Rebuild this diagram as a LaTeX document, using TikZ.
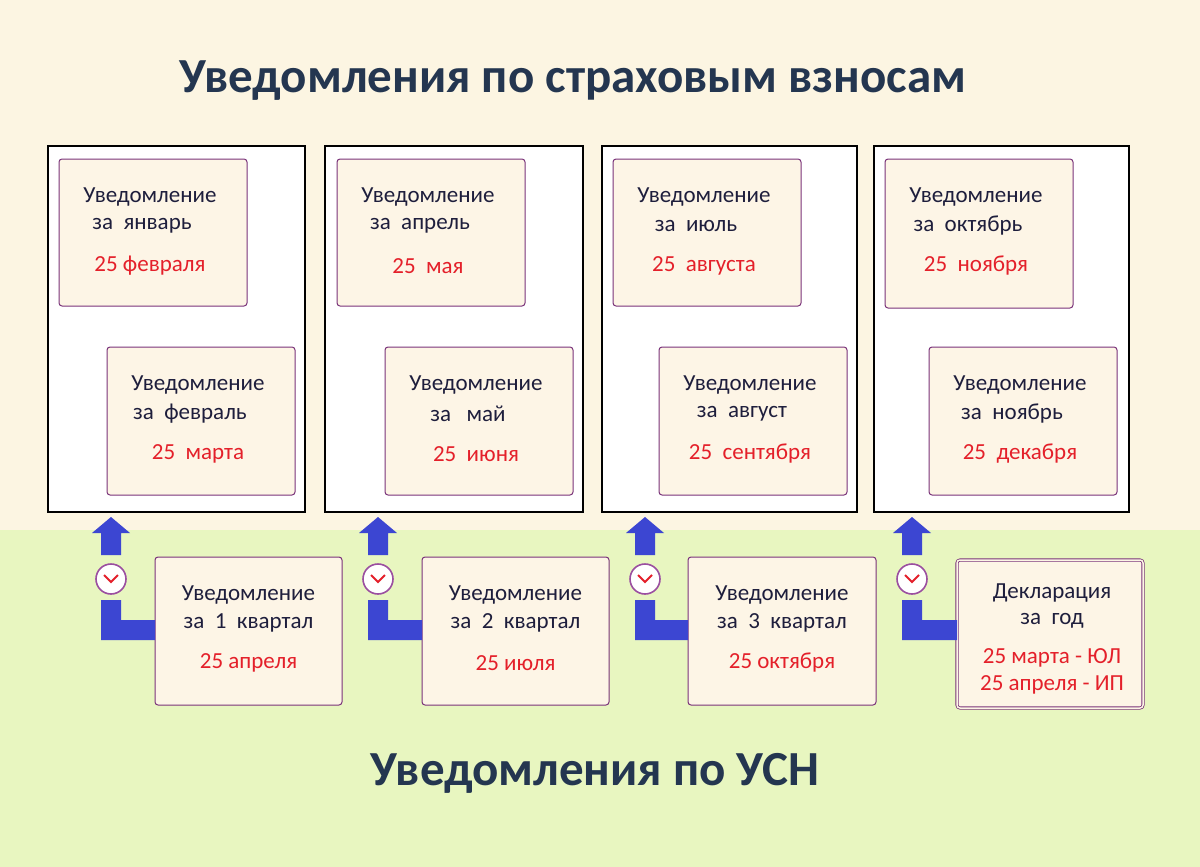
\documentclass[tikz,border=0pt]{standalone}
\usepackage{fontspec}
\setmainfont{Carlito}
\begin{document}
\begin{tikzpicture}[x=1pt,y=-1pt,
  big/.style={draw=black,fill=white,line width=1.2pt},
  card/.style={draw=violet!70!black!80,fill=cream,line width=1pt,rounded corners=3pt},
  tx/.style={font=\fontsize{23}{27}\selectfont,text=navy},
  rd/.style={font=\fontsize{23}{27}\selectfont,text=redc},
  ttl/.style={font=\fontsize{49}{55}\selectfont\bfseries,text=titlec},
  arr/.style={fill=bluec,draw=none}]
\definecolor{cream}{HTML}{FDF5E6}
\definecolor{topbg}{HTML}{FCF5E2}
\definecolor{botbg}{HTML}{E8F6C0}
\definecolor{navy}{HTML}{1E1E3C}
\definecolor{redc}{HTML}{E4202A}
\definecolor{titlec}{HTML}{243650}
\definecolor{bluec}{HTML}{3C46D2}
\definecolor{circc}{HTML}{9B4FA0}
\fill[topbg] (0,0) rectangle (1200,530);
\fill[botbg] (0,530) rectangle (1200,867);
\useasboundingbox (0,0) rectangle (1200,867);
\node[ttl] (t1) at (573,81) {Уведомления по страховым взносам};
\node[ttl] (t2) at (595,773) {Уведомления по УСН};
\foreach \a/\b [count=\i] in {48/305,325/583,602/857,874/1129}
  \draw[big] (\a,146) rectangle (\b,512);
\foreach \xa/\xb/\ya/\yb/\la/\lb/\lc [count=\i] in {
 59/247/159/306/{Уведомление}/{за \ январь}/{25 февраля},
 107/295/347/495/{Уведомление}/{за \ февраль}/{25 \ марта},
 337/525/159/306/{Уведомление}/{за \ апрель}/{25 \ мая},
 385/573/347/495/{Уведомление}/{за \ \ май}/{25 \ июня},
 613/801/159/306/{Уведомление}/{за \ июль}/{25 \ августа},
 659/847/347/495/{Уведомление}/{за \ август}/{25 \ сентября},
 885/1073/159/308/{Уведомление}/{за \ октябрь}/{25 \ ноября},
 929/1117/347/495/{Уведомление}/{за \ ноябрь}/{25 \ декабря}}{
  \draw[card] (\xa,\ya) rectangle (\xb,\yb);
  \node[tx] (c\i a) at ({(\xa+\xb)/2-3},{\ya+38}) {\la};
  \node[tx] (c\i b) at ({(\xa+\xb)/2-11},{\ya+67}) {\lb};
  \node[rd] (c\i c) at ({(\xa+\xb)/2-3},{\ya+107}) {\lc};
}
\foreach \xa/\xb/\lb/\lc [count=\i] in {
 155/342/{за \ 1 \ квартал}/{25 апреля},
 422/609/{за \ 2 \ квартал}/{25 июля},
 688/876/{за \ 3 \ квартал}/{25 октября}}{
  \draw[card] (\xa,557) rectangle (\xb,705);
  \node[tx] (u\i a) at ({(\xa+\xb)/2},595) {Уведомление};
  \node[tx] (u\i b) at ({(\xa+\xb)/2},623) {\lb};
  \node[rd] (u\i c) at ({(\xa+\xb)/2},663) {\lc};
}
\draw[card,double=cream,double distance=1.5pt,line width=0.8pt] (957,560) rectangle (1143,708);
\node[tx] (d1) at (1052,593) {Декларация};
\node[tx] (d2) at (1052,621) {за \ год};
\node[rd] (d3) at (1052,658) {25 марта - ЮЛ};
\node[rd] (d4) at (1052,685) {25 апреля - ИП};
\foreach \x/\bx in {111/155,378/422,645/688,912/957}{
  \fill[arr] (\x-19,533) -- (\x,517) -- (\x+19,533) -- (\x+10,533) -- (\x+10,555) -- (\x-10,555) -- (\x-10,533) -- cycle;
  \fill[arr] (\x-10,600) -- (\x+10,600) -- (\x+10,620) -- (\bx,620) -- (\bx,640) -- (\x-10,640) -- cycle;
  \draw[circc,line width=1.6pt,fill=white] (\x,579) circle (15);
  \draw[redc,line width=1.8pt] (\x-7,575) -- (\x,582) -- (\x+7,575);
}
\end{tikzpicture}
\end{document}
